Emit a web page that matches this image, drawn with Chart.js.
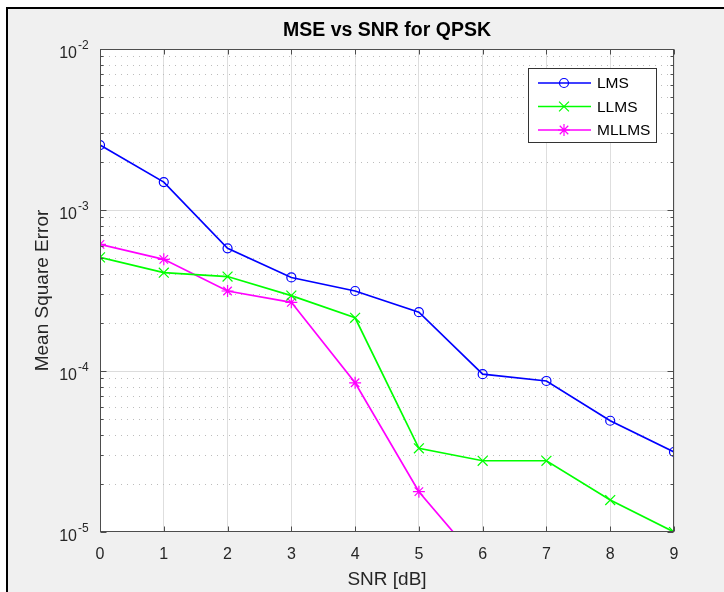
<!DOCTYPE html>
<html>
<head>
<meta charset="utf-8">
<script src="https://cdn.jsdelivr.net/npm/chart.js@4.4.1/dist/chart.umd.min.js"></script>
<style>
  html, body { margin: 0; padding: 0; background: #fff; }
  canvas { display: block; }
</style>
</head>
<body>
<canvas id="mseChart" width="724" height="592"></canvas>
<script>
// Valores
const snrDb = [0, 1, 2, 3, 4, 5, 6, 7, 8, 9];
const mseLms = [2.53e-3, 1.49e-3, 5.78e-4, 3.81e-4, 3.14e-4, 2.32e-4, 9.55e-5, 8.67e-5, 4.91e-5, 3.14e-5];
const mseLlms = [5.08e-4, 4.08e-4, 3.86e-4, 2.94e-4, 2.14e-4, 3.31e-5, 2.77e-5, 2.77e-5, 1.58e-5, 1.0e-5];
const mseMllms = [6.12e-4, 4.94e-4, 3.14e-4, 2.67e-4, 8.45e-5, 1.78e-5, 6.1e-6];
const seriesNames = ['LMS', 'LLMS', 'MLLMS'];
const yDecades = [-5, -4, -3, -2];
const xTickValues = [0, 1, 2, 3, 4, 5, 6, 7, 8, 9];

const chartTitle = 'MSE vs SNR for QPSK';
const xTitle = 'SNR [dB]';
const yTitle = 'Mean Square Error';

const FONT = '"Liberation Sans", Arial, sans-serif';
const AXIS_COLOR = '#4d4d4d';
const TEXT_COLOR = '#262626';

function toPoints(values) {
    return values.map((v, i) => ({ x: snrDb[i], y: v }));
}

// Fondo gris tipo MATLAB con marco negro
const framePlugin = {
    id: 'frame',
    beforeDraw(chart) {
        const ctx = chart.ctx;
        const area = chart.chartArea;
        ctx.save();
        ctx.fillStyle = '#ffffff';
        ctx.fillRect(0, 0, chart.width, chart.height);
        ctx.fillStyle = '#f0f0f0';
        ctx.fillRect(8, 9, chart.width, chart.height);
        ctx.fillStyle = '#000000';
        ctx.fillRect(6, 7, 2, chart.height);
        ctx.fillRect(6, 7, chart.width, 2);
        ctx.fillStyle = '#ffffff';
        ctx.fillRect(area.left, area.top, area.right - area.left, area.bottom - area.top);
        ctx.restore();
    }
};

// Rejilla logarítmica (mayor sólida, menor punteada)
const logGridPlugin = {
    id: 'logGrid',
    beforeDatasetsDraw(chart) {
        const ctx = chart.ctx;
        const area = chart.chartArea;
        const yScale = chart.scales.y;
        ctx.save();
        ctx.lineWidth = 1;
        yDecades.forEach(d => {
            const base = Math.pow(10, d);
            const y = Math.round(yScale.getPixelForValue(base)) + 0.5;
            if (d > -5 && d < -2) {
                ctx.setLineDash([]);
                ctx.strokeStyle = '#dcdcdc';
                ctx.beginPath();
                ctx.moveTo(area.left, y);
                ctx.lineTo(area.right, y);
                ctx.stroke();
            }
            if (d === -2) return;
            for (let m = 2; m <= 9; m++) {
                const ym = Math.round(yScale.getPixelForValue(m * base)) + 0.5;
                ctx.setLineDash([1, 5]);
                ctx.strokeStyle = '#bcbcbc';
                ctx.beginPath();
                ctx.moveTo(area.left + 3, ym);
                ctx.lineTo(area.right, ym);
                ctx.stroke();
            }
        });
        ctx.restore();
    }
};

// Ejes, marcas, etiquetas del eje Y, título y leyenda
const decorPlugin = {
    id: 'decor',
    afterDatasetsDraw(chart) {
        const ctx = chart.ctx;
        const area = chart.chartArea;
        const xScale = chart.scales.x;
        const yScale = chart.scales.y;
        const L = area.left + 0.5, R = area.right - 0.5, T = area.top + 0.5, B = area.bottom - 0.5;
        ctx.save();

        // caja
        ctx.setLineDash([]);
        ctx.strokeStyle = AXIS_COLOR;
        ctx.lineWidth = 1;
        ctx.strokeRect(L, T, R - L, B - T);

        // marcas X (abajo y arriba)
        ctx.beginPath();
        xTickValues.forEach(v => {
            const x = Math.round(xScale.getPixelForValue(v)) + 0.5;
            ctx.moveTo(x, B); ctx.lineTo(x, B - 5);
            ctx.moveTo(x, T); ctx.lineTo(x, T + 5);
        });
        // marcas Y (izquierda y derecha)
        yDecades.forEach(d => {
            const base = Math.pow(10, d);
            const y = Math.round(yScale.getPixelForValue(base)) + 0.5;
            ctx.moveTo(L, y); ctx.lineTo(L + 6, y);
            ctx.moveTo(R, y); ctx.lineTo(R - 6, y);
            if (d === -2) return;
            for (let m = 2; m <= 9; m++) {
                const ym = Math.round(yScale.getPixelForValue(m * base)) + 0.5;
                ctx.moveTo(L, ym); ctx.lineTo(L + 3, ym);
                ctx.moveTo(R, ym); ctx.lineTo(R - 3, ym);
            }
        });
        ctx.stroke();

        // etiquetas Y: 10^k
        ctx.fillStyle = TEXT_COLOR;
        yDecades.forEach(d => {
            const y = yScale.getPixelForValue(Math.pow(10, d));
            ctx.font = '16px ' + FONT;
            ctx.textAlign = 'right';
            ctx.textBaseline = 'middle';
            ctx.fillText('10', 77, y + 5);
            ctx.font = '12px ' + FONT;
            ctx.textAlign = 'left';
            ctx.fillText(String(d), 78, y - 3);
        });

        // título
        ctx.fillStyle = '#000000';
        ctx.font = 'bold 19.5px ' + FONT;
        ctx.textAlign = 'center';
        ctx.textBaseline = 'middle';
        ctx.fillText(chartTitle, (area.left + area.right) / 2, 31);

        // títulos de ejes
        ctx.fillStyle = TEXT_COLOR;
        ctx.font = '19px ' + FONT;
        ctx.fillText(xTitle, (area.left + area.right) / 2, 580);
        ctx.save();
        ctx.translate(43, (area.top + area.bottom) / 2);
        ctx.rotate(-Math.PI / 2);
        ctx.fillText(yTitle, 0, 0);
        ctx.restore();

        // leyenda
        const lx = 528, ly = 68, lw = 129, lh = 75;
        ctx.fillStyle = '#ffffff';
        ctx.fillRect(lx, ly, lw, lh);
        ctx.strokeStyle = '#333333';
        ctx.lineWidth = 1;
        ctx.strokeRect(lx + 0.5, ly + 0.5, lw - 1, lh - 1);
        chart.data.datasets.forEach((ds, i) => {
            const ry = 83 + i * 23.5;
            ctx.strokeStyle = ds.borderColor;
            ctx.lineWidth = ds.borderWidth;
            ctx.beginPath();
            ctx.moveTo(538, ry);
            ctx.lineTo(591, ry);
            ctx.stroke();
            ctx.strokeStyle = ds.borderColor;
            ctx.fillStyle = 'rgba(0,0,0,0)';
            ctx.lineWidth = ds.pointBorderWidth;
            Chart.helpers.drawPoint(ctx, {
                pointStyle: ds.pointStyle,
                radius: ds.pointRadius,
                borderWidth: ds.pointBorderWidth,
                rotation: 0
            }, 564, ry);
            ctx.fillStyle = '#000000';
            ctx.font = '15.5px ' + FONT;
            ctx.textAlign = 'left';
            ctx.textBaseline = 'middle';
            ctx.fillText(ds.label, 597, ry + 1);
        });

        ctx.restore();
    }
};

const ctx = document.getElementById('mseChart').getContext('2d');

new Chart(ctx, {
    type: 'line',
    data: {
        datasets: [
            {
                label: seriesNames[0],
                data: toPoints(mseLms),
                borderColor: '#0000ff',
                backgroundColor: 'rgba(0,0,0,0)',
                borderWidth: 1.7,
                pointStyle: 'circle',
                pointRadius: 4.5,
                pointBorderWidth: 1.2,
                pointBackgroundColor: 'rgba(0,0,0,0)',
                tension: 0
            },
            {
                label: seriesNames[1],
                data: toPoints(mseLlms),
                borderColor: '#00ff00',
                backgroundColor: 'rgba(0,0,0,0)',
                borderWidth: 1.7,
                pointStyle: 'crossRot',
                pointRadius: 7,
                pointBorderWidth: 1.2,
                pointBackgroundColor: 'rgba(0,0,0,0)',
                tension: 0
            },
            {
                label: seriesNames[2],
                data: toPoints(mseMllms),
                borderColor: '#ff00ff',
                backgroundColor: 'rgba(0,0,0,0)',
                borderWidth: 1.7,
                pointStyle: 'star',
                pointRadius: 6,
                pointBorderWidth: 1.2,
                pointBackgroundColor: 'rgba(0,0,0,0)',
                tension: 0
            }
        ]
    },
    options: {
        responsive: false,
        animation: false,
        events: [],
        layout: { padding: { left: 0, top: 49, right: 50, bottom: 0 } },
        plugins: {
            legend: { display: false },
            title: { display: false },
            tooltip: { enabled: false }
        },
        scales: {
            x: {
                type: 'linear',
                min: 0,
                max: 9,
                afterFit: scale => { scale.height = 60; },
                afterBuildTicks: scale => { scale.ticks = xTickValues.map(v => ({ value: v })); },
                border: { display: false },
                grid: { color: '#dedede', lineWidth: 1, drawTicks: false },
                ticks: {
                    color: TEXT_COLOR,
                    font: { family: FONT, size: 16 },
                    padding: 13,
                    maxRotation: 0,
                    autoSkip: false
                }
            },
            y: {
                type: 'logarithmic',
                min: 1e-5,
                max: 1e-2,
                afterFit: scale => { scale.width = 100; },
                border: { display: false },
                grid: { display: false },
                ticks: { display: false }
            }
        }
    },
    plugins: [framePlugin, logGridPlugin, decorPlugin]
});
</script>
</body>
</html>
